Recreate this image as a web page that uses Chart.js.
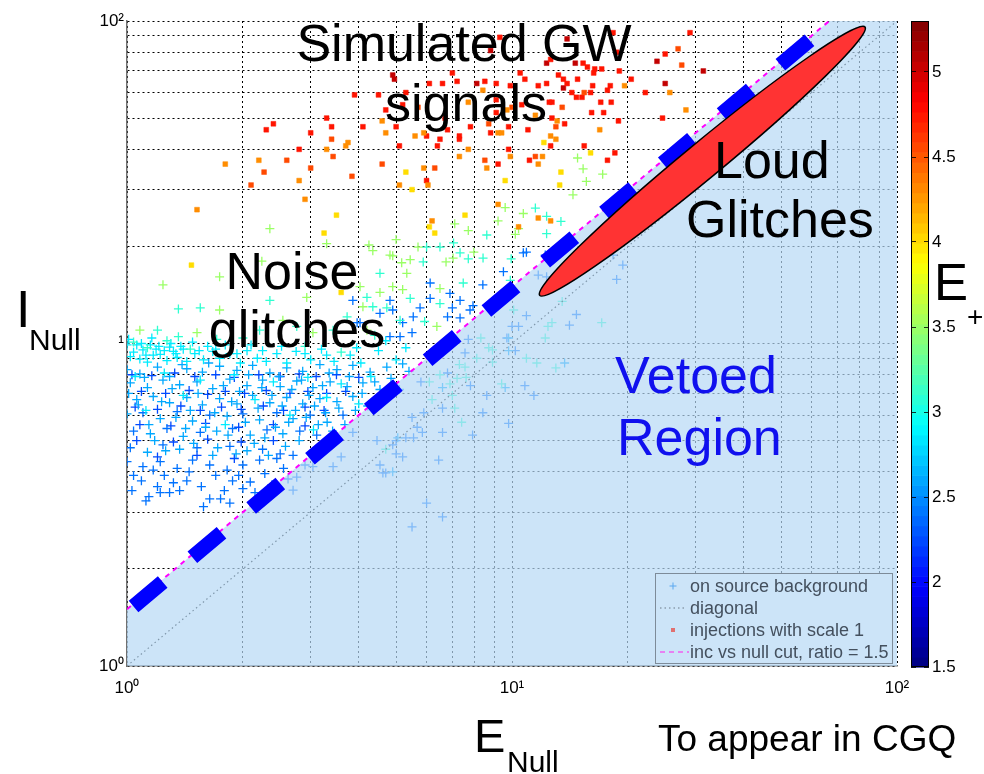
<!DOCTYPE html>
<html>
<head>
<meta charset="utf-8">
<script src="https://cdn.jsdelivr.net/npm/chart.js@4.4.1/dist/chart.umd.min.js"></script>
<style>
body { margin: 0; background: #fff; }
#wrap { position: relative; width: 984px; height: 774px; }
canvas { position: absolute; top: 0; }
</style>
</head>
<body>
<div id="wrap">
  <canvas id="main" width="984" height="774" style="left:0"></canvas>
  <canvas id="cbar" width="84" height="774" style="left:900px"></canvas>
</div>
<script>
// axis ticks (log grid) and colour bar
const gridTicks = [1, 2, 3, 4, 5, 6, 7, 8, 9, 10, 20, 30, 40, 50, 60, 70, 80, 90, 100];
const tickLabels = {1: '10\u2070', 10: '\u00b9', 100: '10\u00b2'};
const xTickLabels = {1: '10\u2070', 10: '10\u00b9', 100: '10\u00b2'};
const cbarMin = 1.5, cbarMax = 5.3;
const cbarTicks = [1.5, 2, 2.5, 3, 3.5, 4, 4.5, 5];

// background (noise) triggers, grouped by E+ value
const bgGreen = [[2.35,22.7],[3.3,20.4],[4.25,20.2],[5.0,21],[14.8,37.6],[15.3,34.8],[17.2,33.5],[15.6,31.8],[14.4,28.9],
  [9.6,26.4],[9.2,24],[10.7,25.3],[7.7,22.4],[10.4,22.7],[10.2,21.8],[2.24,18],[1.24,15.2],[1.74,16.1],[1.74,12.7],
  [1.08,11.0],[1.52,10.8],[2.54,11.8],[3.04,10.8],[4.03,15.0],[4.9,15.0],[4.82,18.8],[5.17,17.8],[5.33,16.5],[5.2,14.7],
  [4.54,14.4],[4.1,13.0],[4.2,11.0],[6.38,11.3],[6.5,14.8],[4.9,18.7],[5.44,18.2],[6.74,17.9],[7.03,18.4],[4.35,19.4],
  [5.7,19.9],[7.96,19.2],[2.93,13.9],[7.1,23.5]];
const bgCyanGreen = [[1.2,11.0],[1.36,10.5],[1.36,12.8],[1.55,12.9],[2.35,13.6],[2.76,11.3],[3.43,11.0],[2.0,10.4],[1.71,10.3],
  [2.21,11.0],[4.54,16.5],[4.2,13.9],[4.73,12.9],[5.12,11.8],[11.5,26.3],[12.3,24.8],[13.4,23.9],[6.0,19.9],[6.5,19.9],
  [7.05,20.5],[8.6,21.7],[12.3,21.9],[5.88,17.9],[7.33,19.1],[8.41,18.4],[5.93,11.7],[4.35,13.0],[3.73,12.1],[5.44,13.8],
  [6.5,13.3],[1.04,10.1],[1.13,9.7],[1.27,10.2],[1.46,9.6],[2.9,9.8],[3.6,9.4],[4.4,10.6],
  [12.2,10.4],[13.0,8.4],[11.6,8.7],[10.9,9.0],[9.4,7.5],[7.4,5.7],[7.1,6.3],[7.0,6.9],[6.5,8.0],[6.1,7.6],[6.2,6.7],
  [4.7,4.7],[7.6,7.85],[7.55,8.45],[7.3,8.6],[8.1,9.0],[8.7,9.7],[8.9,9.55],[8.9,8.75],[8.3,10.4],[7.2,7.8],[6.9,7.5],
  [10.1,12.7],[12.4,11.3],[12.7,11.6],[17.1,11.6],[13.5,13.5],[9.9,15.7],[9.95,18.3],[7.47,15.4],[7.7,18.3]];
const bgCyan = [[1.0,9.9],[1.06,9.9],[1.1,9.55],[1.15,9.9],[1.19,9.6],[1.22,9.25],[1.29,9.75],[1.32,9.45],[1.02,9.1],
  [1.08,8.95],[1.13,8.75],[1.17,9.2],[1.27,8.85],[1.35,9.05],[1.4,9.6],[1.43,8.8],[1.5,9.3],[1.58,8.9],[1.67,9.45],
  [1.74,9.0],[1.85,9.3],[1.97,8.7],[2.05,9.5],[2.18,9.0],[2.3,8.8],[2.45,9.3],[2.6,8.7],[2.75,9.45],[3.0,8.9],[3.2,9.6],
  [3.45,8.8],[3.8,9.2],[4.05,8.7],[4.5,9.5],[5.0,8.9],[5.3,9.7],[1.05,7.9],[1.25,8.1],[1.55,7.7],[1.9,8.0],[2.4,7.6],
  [2.95,7.85],[3.6,7.5],[4.3,7.9],[1.4,6.9],[2.15,6.7],[3.3,6.8],[1.12,6.2],[2.65,6.0],[4.0,6.5],[1.8,5.6],[3.05,5.4],
  [1.01,10.3],[1.04,9.4],[1.09,10.0],[1.12,9.2],[1.16,10.4],[1.21,9.8],[1.25,9.5],[1.3,10.0],[1.34,9.3],[1.38,9.8],
  [1.48,10.1],[1.54,9.5],[1.62,9.8],[1.7,9.6],[1.8,9.9],[1.93,9.3],[2.1,9.9],[2.25,9.5],[2.52,9.8],[2.9,9.3],[3.3,9.2],
  [3.95,9.7],[4.7,10.2]];
const bgLightBlue = [[1.0,8.3],[1.08,8.05],[1.2,8.45],[1.29,7.9],[1.43,8.35],[1.57,8.15],[1.74,8.5],[1.93,8.25],[2.12,8.55],
  [2.35,8.1],[2.6,8.4],[2.86,8.2],[3.17,8.6],[3.51,8.3],[3.86,8.55],[4.28,8.15],[4.73,8.45],[5.2,8.65],
  [1.02,7.55],[1.13,7.3],[1.24,7.7],[1.37,7.45],[1.52,7.6],[1.67,7.25],[1.85,7.75],[2.05,7.4],[2.25,7.7],[2.5,7.35],
  [2.76,7.65],[3.04,7.3],[3.37,7.6],[3.73,7.35],[4.1,7.55],[4.54,7.2],
  [1.06,6.7],[1.17,6.85],[1.29,6.55],[1.43,6.8],[1.57,6.45],[1.74,6.75],[1.93,6.5],[2.12,6.9],[2.35,6.55],[2.6,6.8],
  [2.86,6.5],[3.17,6.75],[3.51,6.6],[3.86,6.85],
  [1.0,6.05],[1.22,5.85],[1.48,5.75],[1.82,5.95],[2.21,5.8],[2.7,5.85],[3.31,5.7],
  [1.15,5.25],[1.4,5.15],[1.71,5.35],[2.09,5.2],[2.54,5.25],[1.13,4.6],[1.37,4.7],[1.67,4.5],[2.05,4.65],
  [13.7,8.7],[9.8,10.4],[9.8,9.5],[9.6,7.3],[5.05,5.1],[4.9,4.0],[6.6,7.3],
  [1.01,7.0],[1.07,6.45],[1.11,7.85],[1.14,5.6],[1.18,5.0],[1.23,6.6],[1.26,4.65],[1.31,7.25],[1.34,5.9],[1.39,8.6],
  [1.42,5.45],[1.46,6.2],[1.49,4.9],[1.53,7.0],[1.6,5.5],[1.63,8.7],[1.69,6.1],[1.72,4.75],[1.78,7.4],[1.83,5.2],
  [1.87,6.6],[1.92,4.55],[1.96,7.1],[2.03,5.7],[2.07,8.0],[2.14,4.9],[2.19,6.3],[2.24,7.3],[2.28,5.1],[2.33,4.5],
  [2.38,6.9],[2.43,5.5],[2.48,7.9],[2.53,6.4],[2.58,4.8],[2.63,5.7],[2.68,7.2],[2.74,6.2],[2.8,5.0],[2.84,7.7],
  [2.92,5.9],[2.97,6.9],[3.07,6.4],[3.14,5.6],[3.22,7.4],[3.28,6.1],[3.35,8.1],[3.42,5.35],[3.55,6.3],[3.68,5.6],
  [3.78,7.9],[3.92,6.2],[4.08,7.0],[4.22,6.4],[4.4,7.6],[4.6,6.9],[4.85,7.8],[5.1,7.2],[5.4,8.2]];
const bgBlue = [[1.04,5.35],[1.27,5.45],[1.55,5.3],[1.88,5.45],[2.31,5.4],[2.81,5.35],[3.11,5.2],
  [1.1,6.1],[1.35,6.15],[1.64,6.0],[2.0,6.05],[2.45,6.1],[2.99,6.0],[3.64,6.0],
  [1.02,4.75],[1.24,4.85],[1.52,4.75],[1.85,4.8],[2.25,4.7],[2.5,4.55],
  [1.0,4.3],[1.1,4.15],[1.22,4.3],[1.35,4.1],[1.48,4.35],[1.64,4.2],[1.82,4.05],[2.0,4.2],[2.21,4.35],
  [1.04,3.9],[1.17,4.05],[1.22,3.45],[1.29,3.45],[1.32,3.7],[1.2,3.6],[1.43,3.75],[1.64,3.3],[1.79,3.5],[1.88,3.75],
  [2.0,3.55],[2.09,3.72],[2.45,4.4],[2.7,4.5],[2.9,4.2],[3.04,4.15],[2.76,3.85],[2.7,3.51],[3.43,4.15],[3.6,4.45],
  [3.86,5.3],[4.46,5.0],[4.54,4.2],[4.62,3.97],[5.0,5.0],[5.3,5.1],[5.67,5.5],
  [10.2,9.5],[10.8,7.4],[11.4,6.9],[9.8,5.65],[8.6,6.9],[8.4,6.1],[7.9,5.2],[6.6,6.3],[5.8,7.6],[5.9,6.1],[5.5,5.9],
  [5.85,5.3],[6.6,5.3],[6.45,4.35],[4.9,4.85],[5.0,4.55],[5.2,4.45],[5.55,5.1],[4.7,3.97],[7.8,7.4],[7.55,9.35],
  [7.7,10.3],[6.8,8.1],[11.7,16.3],[12.2,18.8],[10.9,12.2],[10.0,11.3],[10.4,11.3],[9.7,10.4],[14.7,12.3],[14.1,11.4],
  [18.7,15.8],[18.3,18.8],[19.4,17.5],[12.3,16.1],[6.0,3.2],[6.6,2.9],[5.5,2.7],
  [6.13,15.4],[6.9,14.3],[7.33,13.6],[7.92,13.1],[7.0,12.9],[6.13,13.8],[5.77,12.9],[4.82,13.6],[3.86,13.6],[3.96,11.6],
  [4.54,12.4],[4.9,12.7],[5.2,11.6],[5.54,12.1],[6.8,12.1],[7.33,12.0],[7.78,12.7],[5.5,10.8],[5.12,10.5],[4.03,11.6],
  [9.5,16.7],[8.4,15.2],[10.7,19.1],[10.9,19.2],[4.82,10.5],
  [1.03,3.5],[1.09,3.75],[1.14,3.35],[1.25,3.9],[1.37,3.5],[1.45,4.0],[1.56,3.6],[1.7,3.9],[1.75,3.3],[1.95,3.9],
  [2.15,3.45],[2.28,3.95],[2.38,3.65],[2.55,4.1],[2.62,3.8],[1.58,3.12],[1.85,3.2],[1.12,3.25]];
const bgDarkBlue = [[1.03,8.0],[1.16,7.95],[1.33,8.1],[1.5,7.9],[1.7,8.0],[1.9,7.85],[2.2,8.0],[2.5,7.9],[2.8,8.05],
  [3.1,7.9],[3.5,8.0],[4.0,7.85],[1.09,7.1],[1.26,7.0],[1.45,7.15],[1.62,6.95],[1.8,7.1],[2.02,7.0],[2.3,7.15],
  [2.65,7.0],[2.95,7.1],[3.3,7.0],[3.7,7.1],[1.05,6.35],[1.2,6.25],[1.38,6.4],[1.55,6.2],[1.76,6.35],[1.98,6.25],
  [2.26,6.4],[2.55,6.2],[2.9,6.35],[3.25,6.2],[1.08,5.6],[1.3,5.55],[1.6,5.65],[1.95,5.5],[2.4,5.6],[2.9,5.55],
  [1.06,5.0],[1.32,4.95],[1.62,5.05],[1.98,4.95],[2.4,5.0],[1.2,4.45],[1.52,4.5],[1.9,4.4]];
const bgGroups = [[bgGreen, 3.5], [bgCyanGreen, 3.1], [bgCyan, 2.85], [bgLightBlue, 2.6], [bgBlue, 2.4], [bgDarkBlue, 2.25]];

// injections with scale 1, grouped by E+ value
const injYellow = [[5.3,34],[5.5,30],[3.5,25],[3.25,22],[6.1,23],[12.1,42],[16,39],[13.4,34],[9.6,32],[13.3,31],
  [7.55,25],[6.3,22],[1.47,17.5],[3.6,14.4]];
const injOrange = [[4.6,49],[4.7,45],[3.75,42],[3.7,41],[3.3,40],[5.6,44],[5.9,45],[2.2,37],[1.8,36],[2.8,32],[5.1,31],
  [6.05,31],[2.9,28],[1.52,26],[19.6,63],[25.7,60],[8.4,61],[7.7,56],[9.7,53],[11.5,51],[13.1,49],[16.9,46],[9.2,45],
  [9.4,45],[12.6,44],[13,43],[7.7,40],[12,38],[7.3,38],[9.9,38],[5.9,35],[8.6,35],[11.7,36],[9.2,27],[11.7,24.5],
  [12.6,24],[6.2,24],[10.4,23],[28.3,53]];
const injOrangeRed = [[5.7,54],[3.4,43],[3.43,38],[2.6,37],[3.0,35],[4.6,36],[2.27,34],[3.84,33],[2.1,31],[15.4,60],
  [13.5,54],[10,54],[8.7,48],[13,47],[11.5,38],[8.5,37],[6.3,35],[27.6,73],[27,82]];
const injRed = [[5.3,60],[3.9,59],[4.5,59],[5.2,55],[4.7,53],[3.3,50],[3.4,47],[4.1,47],[5.0,47],[2.3,46],[2.4,48],
  [3.0,45],[2.8,40],[5.1,41],[6.0,32],[9.3,89],[18.7,80],[18.3,92],[25,79],[12.6,76],[15.3,74],[15.7,72],[16.4,71],
  [17.1,71],[16.3,69],[19,70],[7.0,69],[10.5,69],[13.2,68],[13.6,66],[14.8,66],[10.8,66],[12.3,64],[6.1,64],[6.6,64],
  [7.2,65],[8.5,65],[9.1,64],[9.9,63],[11.7,63],[13.9,64],[16.2,63],[18,63],[20.4,66],[22.2,60],[14.3,60],[16,60],
  [14.7,58],[15.2,58],[9.1,57],[12.7,56],[12.5,56],[17,56],[18.1,56],[10.6,55],[9.1,52],[16.1,52],[12.7,50],[13.7,48],
  [24.6,50],[18.9,49],[6.7,50],[7.8,47],[9.8,47],[11,46],[6.8,46],[7.3,44],[8.8,45],[6.5,43],[6.0,44],[7.3,43],
  [12.6,41],[15.4,41],[6.4,41],[9.8,40],[18.5,39],[11.1,37],[9.2,36],[17.7,37],[29,92],[17.7,61],[17.3,52]];
const injDarkRed = [[4.9,68],[4.95,66],[8.8,81],[13.9,88],[23.8,75],[12.3,74],[14.6,74],[8.1,64],[25,64],[13.6,62],[31.4,70]];
const injGroups = [[injYellow, 4.0], [injOrange, 4.3], [injOrangeRed, 4.55], [injRed, 4.75], [injDarkRed, 5.05]];

// lines and regions
const diagonalLine = [[1, 1], [100, 100]];
const cutLine = [[1, 1.5], [66.67, 100]];
const vetoEdge = [[1, 1.5], [66.67, 100], [100, 100]];
const handDashes = [[1.04, 1.53], [60.9, 89.5]];
const loudTips = [[11.8, 14.1], [82.6, 95.8]];
const legendLabels = ['on source background', 'diagonal', 'injections with scale 1', 'inc vs null cut, ratio = 1.5'];

const FONT = "'Liberation Sans', Arial, sans-serif";

function jet(v) {
    let t = (v - cbarMin) / (cbarMax - cbarMin);
    let c = k => Math.round(255 * Math.max(0, Math.min(1, 1.5 - Math.abs(4 * t - k))));
    return 'rgb(' + c(3) + ',' + c(2) + ',' + c(1) + ')';
}

function toXY(arr) { return arr.map(p => ({x: p[0], y: p[1]})); }

let datasets = [];
bgGroups.forEach(g => {
    datasets.push({label: legendLabels[0], data: toXY(g[0]), pointStyle: 'cross', pointRadius: 4.5,
                   borderColor: jet(g[1]), borderWidth: 1.3, order: 20});
});
injGroups.forEach(g => {
    datasets.push({label: legendLabels[2], data: toXY(g[0]), pointStyle: 'rect', pointRadius: 3.4,
                   backgroundColor: jet(g[1]), borderColor: jet(g[1]), borderWidth: 0.5, order: 15});
});
datasets.push({label: legendLabels[1], data: toXY(diagonalLine), showLine: true, pointRadius: 0,
               borderColor: '#000', borderWidth: 1.2, borderDash: [1.5, 3], order: 8});
datasets.push({label: 'vetoed', data: toXY(vetoEdge), showLine: true, pointRadius: 0, fill: 'start',
               backgroundColor: 'rgba(182,216,245,0.7)', borderColor: 'rgba(0,0,0,0)', borderWidth: 0, order: 5});
datasets.push({label: legendLabels[3], data: toXY(cutLine), showLine: true, pointRadius: 0,
               borderColor: '#ff00ff', borderWidth: 2, borderDash: [5, 5], order: 3});
datasets.push({label: 'hand', data: toXY(handDashes), showLine: true, pointRadius: 0,
               borderColor: '#0000ff', borderWidth: 15, borderDash: [38, 38.7], borderCapStyle: 'butt', order: 2});

function txt(ctx, s, x, y, size, color, align) {
    ctx.font = size + 'px ' + FONT;
    ctx.fillStyle = color;
    ctx.textAlign = align || 'left';
    ctx.textBaseline = 'alphabetic';
    ctx.fillText(s, x, y);
}

const annotations = {
    id: 'annotations',
    afterDatasetsDraw(chart) {
        const {ctx, scales: {x, y}} = chart;
        // loud glitch ellipse
        let x1 = x.getPixelForValue(loudTips[0][0]), y1 = y.getPixelForValue(loudTips[0][1]);
        let x2 = x.getPixelForValue(loudTips[1][0]), y2 = y.getPixelForValue(loudTips[1][1]);
        let a = Math.hypot(x2 - x1, y2 - y1) / 2;
        ctx.save();
        ctx.beginPath();
        ctx.ellipse((x1 + x2) / 2, (y1 + y2) / 2, a, 18, Math.atan2(y2 - y1, x2 - x1), 0, Math.PI * 2);
        ctx.fillStyle = '#ff3333';
        ctx.fill();
        ctx.lineWidth = 1.5;
        ctx.strokeStyle = '#000';
        ctx.stroke();

        // legend box
        let lx = 655, ly = 573, lw = 237, lh = 90;
        ctx.fillStyle = '#cce4f8';
        ctx.fillRect(lx, ly, lw, lh);
        ctx.strokeStyle = '#7d8b99';
        ctx.lineWidth = 1;
        ctx.strokeRect(lx + 0.5, ly + 0.5, lw, lh);
        let rows = [586, 608, 630, 652];
        ctx.strokeStyle = '#5aa8f0';
        ctx.lineWidth = 1;
        ctx.beginPath();
        ctx.moveTo(673, rows[0] - 3.5); ctx.lineTo(673, rows[0] + 3.5);
        ctx.moveTo(669.5, rows[0]); ctx.lineTo(676.5, rows[0]);
        ctx.stroke();
        ctx.setLineDash([1.5, 3]);
        ctx.strokeStyle = '#6a7886';
        ctx.beginPath(); ctx.moveTo(660, rows[1]); ctx.lineTo(686, rows[1]); ctx.stroke();
        ctx.setLineDash([5, 4]);
        ctx.strokeStyle = '#f060f0';
        ctx.lineWidth = 1.5;
        ctx.beginPath(); ctx.moveTo(660, rows[3]); ctx.lineTo(689, rows[3]); ctx.stroke();
        ctx.setLineDash([]);
        ctx.fillStyle = '#e07070';
        ctx.fillRect(671, rows[2] - 2, 4, 4);
        legendLabels.forEach((l, i) => {
            ctx.font = '18px ' + FONT;
            ctx.fillStyle = '#44505e';
            ctx.textAlign = 'left';
            ctx.textBaseline = 'middle';
            ctx.fillText(l, 690, rows[i] + 1);
        });
        ctx.restore();
    },
    afterDraw(chart) {
        const ctx = chart.ctx;
        ctx.save();
        txt(ctx, 'Simulated GW', 464, 61, 52, '#000', 'center');
        txt(ctx, 'signals', 466, 121, 52, '#000', 'center');
        txt(ctx, 'Noise', 292, 289, 52, '#000', 'center');
        txt(ctx, 'glitches', 297, 347, 52, '#000', 'center');
        txt(ctx, 'Loud', 714, 178, 52, '#000');
        txt(ctx, 'Glitches', 686, 237, 52, '#000');
        txt(ctx, 'Vetoed', 615, 393, 52, '#1010ee');
        txt(ctx, 'Region', 617, 455, 52, '#1010ee');
        txt(ctx, 'To appear in CGQ', 658, 751, 37, '#000');
        txt(ctx, 'I', 16, 327, 52, '#000');
        txt(ctx, 'Null', 29, 350, 30, '#000');
        txt(ctx, 'E', 474, 752, 47, '#000');
        txt(ctx, 'Null', 507, 772, 30, '#000');
        txt(ctx, 'E', 934, 300, 51, '#000');
        txt(ctx, '+', 967, 326, 28, '#000');
        ctx.restore();
    }
};

Chart.defaults.font.family = FONT;

new Chart(document.getElementById('main'), {
    type: 'scatter',
    data: {datasets: datasets},
    options: {
        responsive: false,
        animation: false,
        events: [],
        layout: {padding: {left: 0, top: 21, right: 87, bottom: 68}},
        plugins: {legend: {display: false}, tooltip: {enabled: false}},
        scales: {
            x: {
                type: 'logarithmic', min: 1, max: 100,
                afterBuildTicks: s => { s.ticks = gridTicks.map(v => ({value: v})); },
                afterFit: s => { s.height = 40; },
                ticks: {autoSkip: false, maxRotation: 0, minRotation: 0, padding: 12, color: '#000',
                        font: {size: 17}, callback: v => xTickLabels[v] || ''},
                grid: {color: '#000', lineWidth: 1, drawTicks: false},
                border: {display: true, color: '#707070', width: 1.5, dash: [2, 3]}
            },
            y: {
                type: 'logarithmic', min: 1, max: 100,
                afterBuildTicks: s => { s.ticks = gridTicks.map(v => ({value: v})); },
                afterFit: s => { s.width = 127; },
                ticks: {autoSkip: false, padding: 3, color: '#000', font: {size: 17},
                        callback: v => tickLabels[v] || ''},
                grid: {color: '#000', lineWidth: 1, drawTicks: false},
                border: {display: true, color: '#707070', width: 1.5, dash: [2, 3]}
            }
        }
    },
    plugins: [annotations]
});

// colour bar
const cbarFill = {
    id: 'cbarFill',
    beforeDraw(chart) {
        const {ctx, chartArea: a, scales: {y}} = chart;
        let levels = 64;
        for (let i = 0; i < levels; i++) {
            let v0 = cbarMin + (cbarMax - cbarMin) * i / levels;
            let v1 = cbarMin + (cbarMax - cbarMin) * (i + 1) / levels;
            let p0 = y.getPixelForValue(v0), p1 = y.getPixelForValue(v1);
            ctx.fillStyle = jet((v0 + v1) / 2);
            ctx.fillRect(a.left, p1, a.right - a.left, p0 - p1 + 0.6);
        }
    },
    afterDraw(chart) {
        const {ctx, chartArea: a} = chart;
        ctx.save();
        ctx.strokeStyle = '#000';
        ctx.lineWidth = 1;
        ctx.strokeRect(a.left + 0.5, a.top + 0.5, a.right - a.left - 1, a.bottom - a.top - 1);
        ctx.restore();
    }
};

new Chart(document.getElementById('cbar'), {
    type: 'scatter',
    data: {datasets: []},
    options: {
        responsive: false,
        animation: false,
        events: [],
        layout: {padding: {left: 11, top: 21, right: 0, bottom: 107}},
        plugins: {legend: {display: false}, tooltip: {enabled: false}},
        scales: {
            x: {display: false, min: 0, max: 1},
            y: {
                type: 'linear', position: 'right', min: cbarMin, max: cbarMax,
                afterBuildTicks: s => { s.ticks = cbarTicks.map(v => ({value: v})); },
                afterFit: s => { s.width = 55; },
                ticks: {color: '#000', font: {size: 17}, padding: 3, callback: v => String(v)},
                grid: {drawTicks: false, color: 'rgba(0,0,0,0.8)', lineWidth: 1},
                border: {display: false, dash: [5, 8]}
            }
        }
    },
    plugins: [cbarFill]
});
</script>
</body>
</html>
